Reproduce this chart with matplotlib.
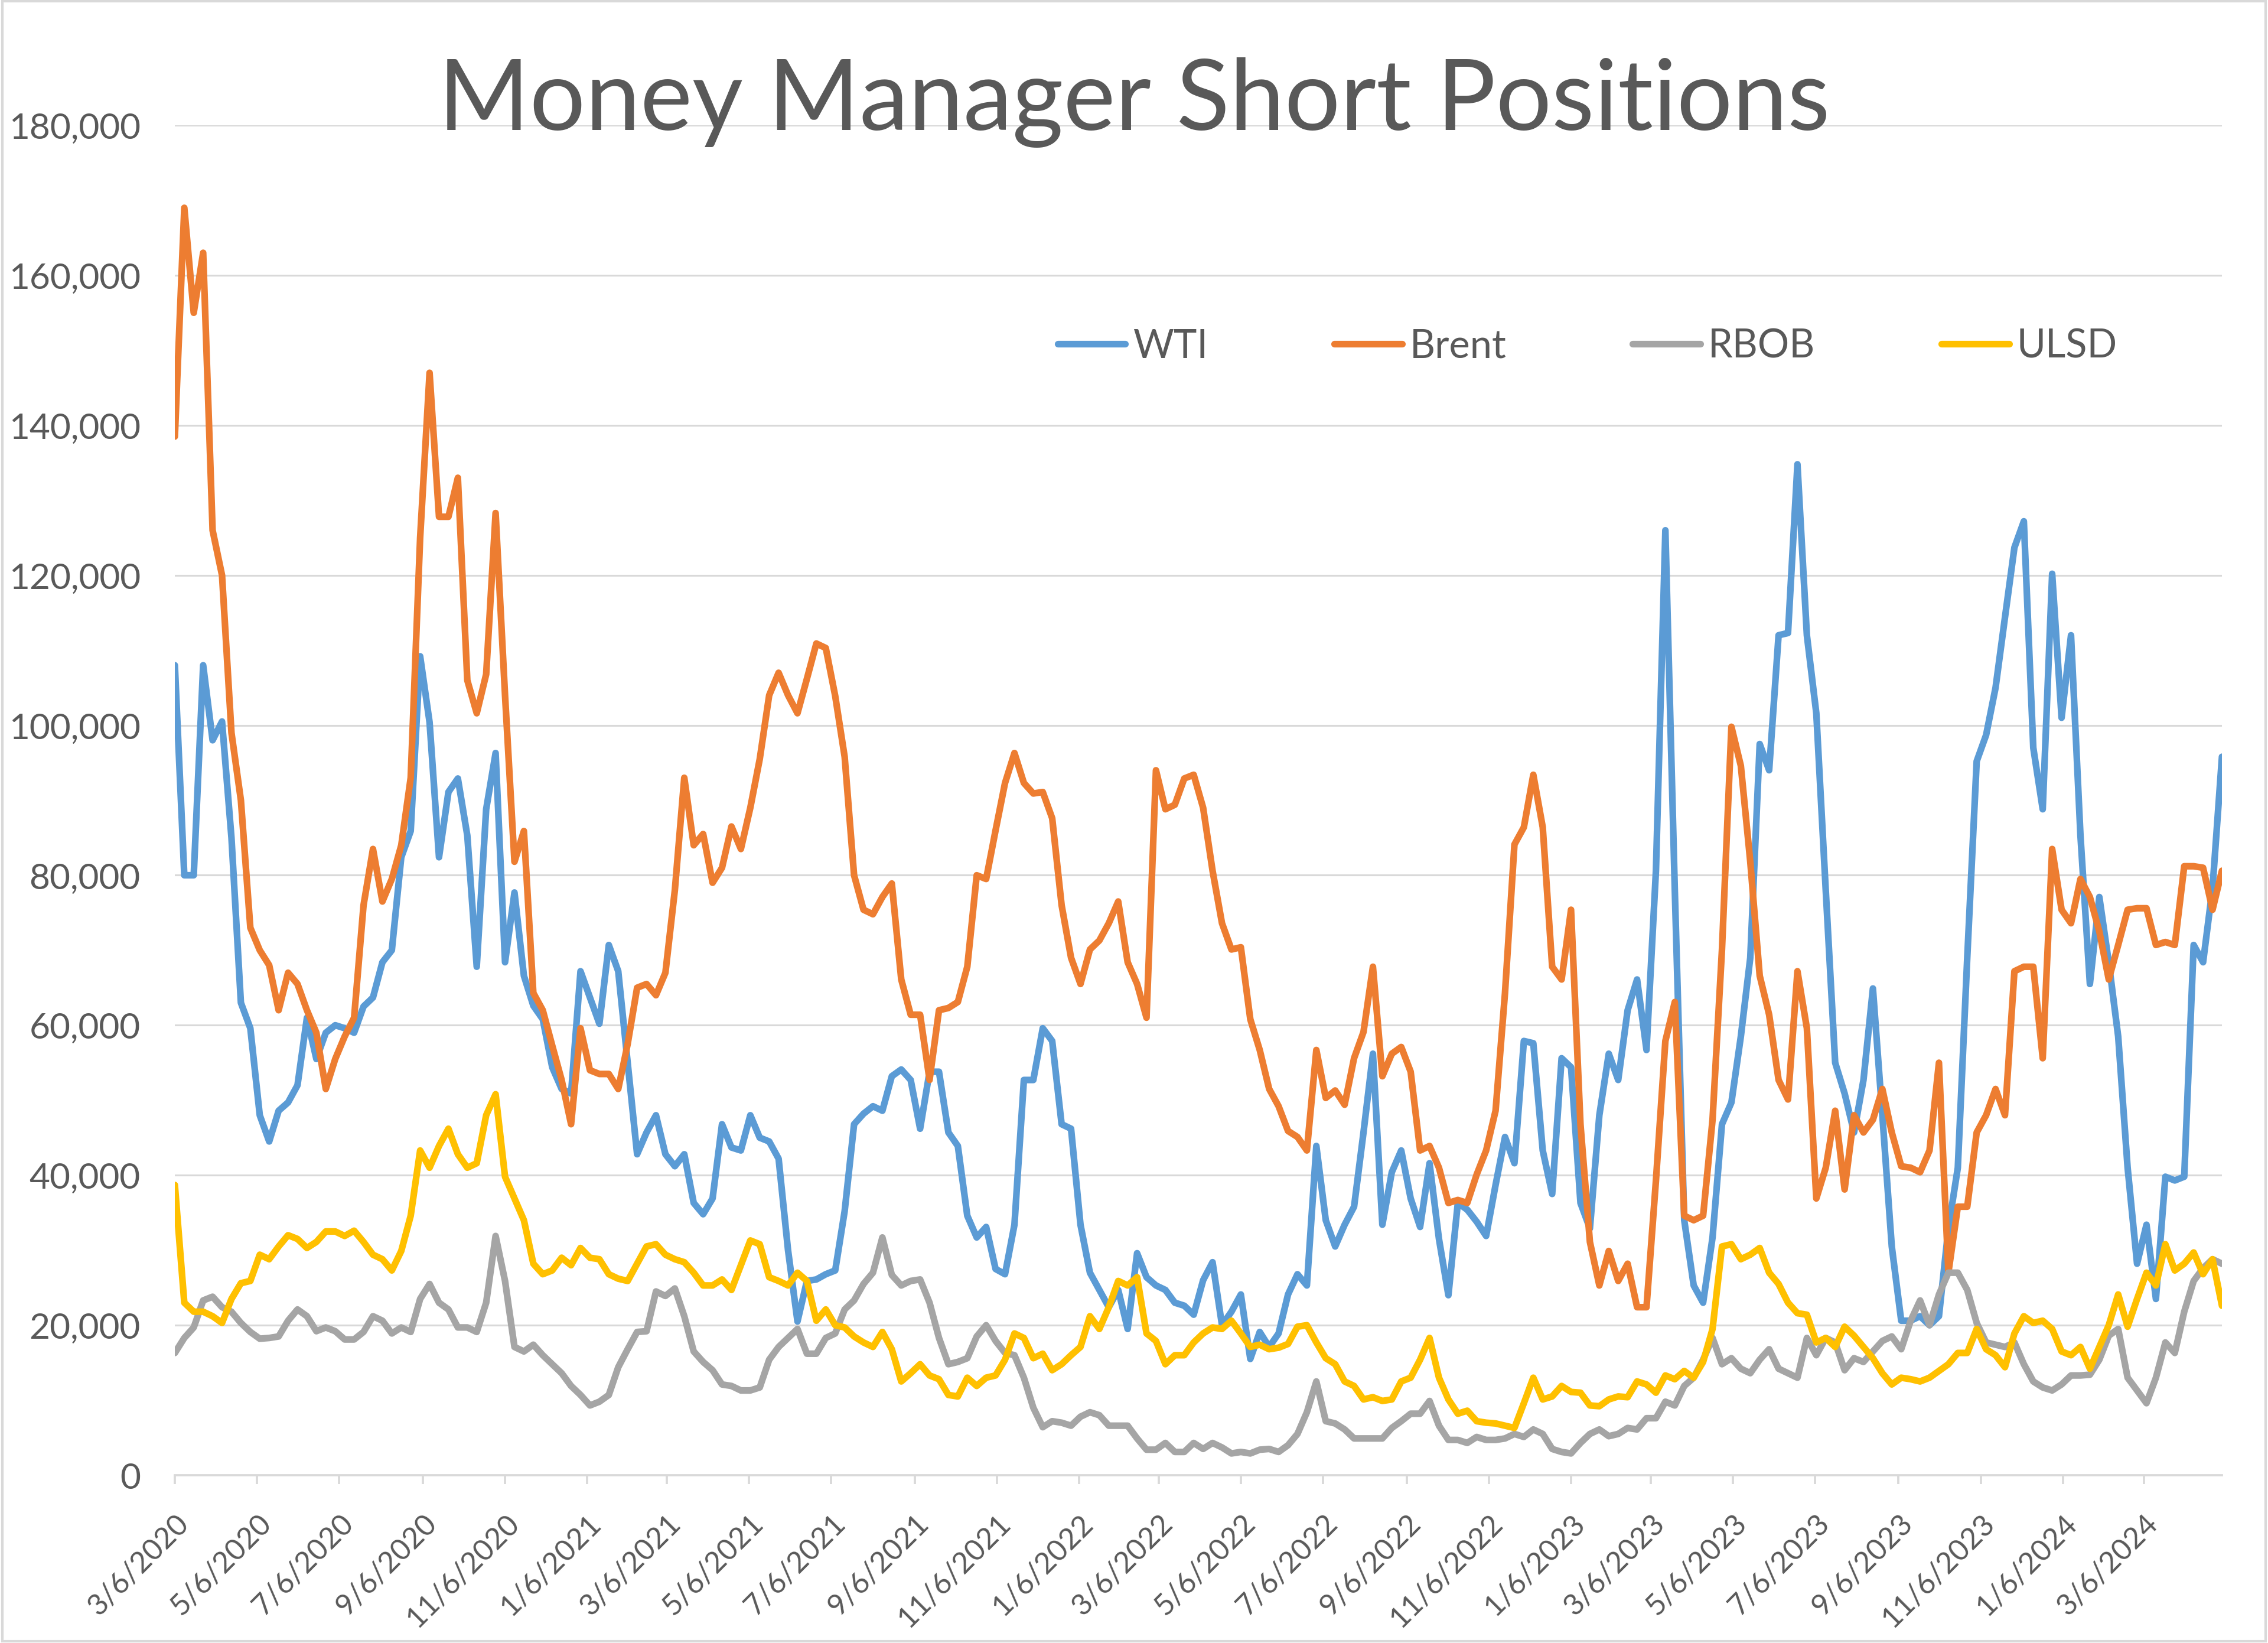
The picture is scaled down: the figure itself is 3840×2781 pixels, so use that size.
import numpy as np
import pandas as pd
import matplotlib
matplotlib.use("Agg")
from matplotlib import pyplot as plt
from matplotlib.patches import Rectangle

# weekly COT dates (Fridays), 3/6/2020 .. 5/3/2024
dates = pd.date_range("2020-03-06", periods=218, freq="7D")

# money manager short positions, thousands of contracts
wti = [
    108, 80, 80, 108, 98, 100.5, 85, 63, 59.6, 48, 44.5, 48.6, 49.7, 52, 61, 55.5, 59, 60, 59.6, 59, 62.5, 63.7,
    68.4, 70, 82.4, 85.9, 109.2, 100.4, 82.4, 91.1, 92.9, 85.3, 67.8, 88.8, 96.3, 68.4, 77.7, 66.6, 62.6, 60.8, 54.4, 51.5, 50.9, 67.2,
    63.7, 60.2, 70.7, 67.2, 55, 42.8, 45.7, 48, 42.8, 41.2, 42.8, 36.3, 34.8, 36.9, 46.8, 43.7, 43.3, 48, 45, 44.5, 42.2, 30,
    20.5, 25.9, 26.1, 26.8, 27.3, 35.2, 46.8, 48.2, 49.2, 48.6, 53.2, 54.1, 52.7, 46.2, 53.8, 53.8, 45.7, 43.9, 34.6, 31.7, 33.1, 27.5,
    26.8, 33.4, 52.7, 52.7, 59.6, 57.9, 46.8, 46.2, 33.4, 27, 24.7, 22.4, 24.7, 19.5, 29.6, 26.4, 25.3, 24.7, 23, 22.6, 21.4, 26,
    28.4, 20, 21.8, 24.1, 15.5, 19.1, 17.1, 18.9, 24.1, 26.8, 25.3, 43.9, 34, 30.5, 33.4, 35.8, 45.7, 56.2, 33.4, 40.4, 43.3,
    36.9, 33.1, 41.6, 31.5, 24, 36.3, 35.4, 33.8, 31.9, 38.7, 45.1, 41.6, 57.9, 57.6, 43.3, 37.5, 55.6, 54.4, 36.3, 32.9, 48, 56.2,
    52.7, 62, 66.1, 56.7, 80.6, 126, 78, 34, 25.3, 23, 31.7, 46.8, 49.7, 58.5, 69, 97.5, 94, 112, 112.3, 134.8, 112, 101.6,
    78, 55, 50.9, 45.7, 52.7, 64.9, 48, 30.5, 20.6, 20.6, 21.2, 20, 21.2, 32.9, 41, 69, 95.2, 98.7, 105, 114.4, 123.7, 127.2,
    97, 88.8, 120.2, 101, 112, 85.3, 65.5, 77.1, 68.4, 58.5, 41, 28.2, 33.4, 23.5, 39.8, 39.3, 39.8, 70.7, 68.4, 78.3, 95.8,
]
brent = [
    138.5, 169, 155, 163, 126, 120, 99, 90, 73, 70, 68, 62, 67, 65.5, 62, 59, 51.5, 55.5, 58.5, 61, 76, 83.5,
    76.5, 79.5, 84, 93, 125, 147, 127.8, 127.8, 133, 106, 101.6, 106.8, 128.3, 104, 81.8, 85.9, 64.3, 62, 57.3, 52.7, 46.8, 59.6,
    54, 53.5, 53.5, 51.5, 57.5, 65, 65.5, 64, 67, 78, 93, 84, 85.5, 79, 81, 86.5, 83.5, 89, 95.5, 104, 107, 104,
    101.6, 106.2, 110.9, 110.3, 103.9, 95.8, 80, 75.4, 74.8, 77.1, 78.9, 66.1, 61.4, 61.4, 52.7, 62, 62.3, 63.1, 67.8, 80, 79.5, 86,
    92.3, 96.3, 92.3, 90.9, 91.1, 87.6, 76, 69, 65.5, 70.1, 71.3, 73.6, 76.5, 68.4, 65.5, 61, 94, 88.8, 89.4, 92.9, 93.4, 89,
    80.6, 73.6, 70.1, 70.4, 60.8, 56.7, 51.5, 49.2, 45.9, 45.1, 43.3, 56.7, 50.3, 51.3, 49.4, 55.6, 59.1, 67.8, 53.2, 56.2, 57.1,
    53.8, 43.3, 43.9, 41, 36.3, 36.7, 36.3, 40.1, 43.3, 48.6, 64.3, 84.1, 86.4, 93.4, 86.4, 67.8, 66.1, 75.4, 46.8, 31.1, 25.3, 29.9,
    25.9, 28.2, 22.4, 22.4, 39.3, 57.9, 63.1, 34.6, 34, 34.6, 47.4, 70.1, 99.8, 94.6, 81.8, 66.6, 61.4, 52.7, 50.1, 67.2, 59.6, 36.9,
    41, 48.6, 38.1, 48, 45.7, 47.4, 51.5, 45.7, 41.2, 41, 40.4, 43.3, 55, 27, 35.8, 35.8, 45.7, 48, 51.5, 48, 67.2, 67.8,
    67.8, 55.6, 83.5, 75.4, 73.6, 79.5, 77.1, 72.5, 66.1, 70.7, 75.4, 75.6, 75.6, 70.7, 71.1, 70.7, 81.2, 81.2, 81, 75.4, 80.6,
]
rbob = [
    16.3, 18.3, 19.7, 23.3, 23.8, 22.4, 21.8, 20.3, 19.1, 18.2, 18.3, 18.5, 20.6, 22.1, 21.2, 19.2, 19.7, 19.2, 18.1, 18.1, 19.1, 21.2,
    20.6, 18.9, 19.7, 19.1, 23.5, 25.5, 23, 22.1, 19.7, 19.7, 19.1, 23, 31.9, 25.9, 17.1, 16.5, 17.4, 16, 14.8, 13.6, 11.9, 10.7,
    9.3, 9.8, 10.7, 14.4, 16.8, 19.1, 19.2, 24.5, 23.9, 24.9, 21.2, 16.5, 15.1, 14, 12.1, 11.9, 11.3, 11.3, 11.7, 15.4, 17.1, 18.3,
    19.5, 16.2, 16.2, 18.3, 18.9, 22.1, 23.3, 25.5, 27, 31.7, 26.7, 25.3, 25.9, 26.1, 23, 18.3, 14.8, 15.1, 15.6, 18.5, 20, 17.9,
    16.3, 16, 13, 9, 6.4, 7.2, 7, 6.6, 7.8, 8.4, 8, 6.6, 6.6, 6.6, 4.9, 3.4, 3.4, 4.3, 3.1, 3.1, 4.3, 3.5,
    4.3, 3.7, 2.9, 3.1, 2.9, 3.4, 3.5, 3.1, 4, 5.5, 8.4, 12.5, 7.2, 6.9, 6.1, 4.9, 4.9, 4.9, 4.9, 6.3, 7.2,
    8.2, 8.2, 9.9, 6.6, 4.7, 4.7, 4.3, 5.1, 4.7, 4.7, 4.9, 5.5, 5.1, 6.1, 5.5, 3.5, 3.1, 2.9, 4.3, 5.5, 6.1, 5.2,
    5.5, 6.3, 6.1, 7.6, 7.6, 9.8, 9.3, 11.9, 13, 15.4, 18.3, 14.8, 15.6, 14.2, 13.6, 15.4, 16.8, 14.2, 13.6, 13, 18.3, 16,
    18.3, 17.7, 14, 15.6, 15.1, 16.5, 17.9, 18.5, 16.8, 20.6, 23.3, 20, 24.1, 27, 27, 24.7, 20.3, 17.7, 17.4, 17.1, 17.7, 14.8,
    12.5, 11.7, 11.3, 12.1, 13.3, 13.3, 13.4, 15.4, 18.6, 19.5, 13, 11.3, 9.6, 13, 17.7, 16.3, 21.8, 25.9, 27.6, 28.8, 28.2,
]
ulsd = [
    38.7, 23, 21.8, 21.8, 21.2, 20.3, 23.5, 25.6, 25.9, 29.4, 28.8, 30.5, 32, 31.5, 30.3, 31.1, 32.5, 32.5, 31.9, 32.6, 31.1, 29.4,
    28.8, 27.3, 29.9, 34.6, 43.3, 41, 43.9, 46.2, 42.8, 41, 41.6, 48, 50.8, 39.8, 36.9, 34, 28.2, 26.8, 27.3, 29, 28, 30.3,
    29, 28.8, 26.8, 26.2, 25.9, 28.2, 30.5, 30.8, 29.4, 28.8, 28.4, 27, 25.3, 25.3, 26.1, 24.7, 28, 31.3, 30.8, 26.4, 25.9, 25.3,
    27, 25.9, 20.6, 22.1, 20, 19.7, 18.5, 17.7, 17.1, 19.1, 16.8, 12.5, 13.6, 14.8, 13.3, 12.8, 10.7, 10.5, 13, 11.9, 13, 13.3,
    15.4, 18.9, 18.3, 15.6, 16.2, 14, 14.8, 16, 17.1, 21.2, 19.5, 22.4, 25.9, 25.3, 26.4, 18.9, 17.9, 14.8, 16, 16, 17.7, 18.9,
    19.7, 19.5, 20.6, 18.9, 17.1, 17.4, 16.8, 17, 17.5, 19.8, 20, 17.7, 15.6, 14.8, 12.5, 11.9, 10.1, 10.4, 9.9, 10.1, 12.5,
    13, 15.4, 18.3, 13, 10.1, 8.2, 8.6, 7.2, 7, 6.9, 6.6, 6.3, 9.6, 13, 10.1, 10.5, 11.9, 11.1, 11, 9.3, 9.2, 10.1,
    10.5, 10.4, 12.5, 12.1, 11, 13.3, 12.8, 13.9, 13, 15.1, 19.5, 30.5, 30.8, 28.8, 29.4, 30.3, 27, 25.5, 23, 21.6, 21.4, 17.7,
    18.3, 17.1, 19.8, 18.6, 17.1, 15.6, 13.6, 12.1, 13, 12.8, 12.5, 13, 13.9, 14.8, 16.3, 16.3, 19.5, 16.8, 16, 14.4, 18.9, 21.2,
    20.3, 20.6, 19.5, 16.5, 16, 17.1, 14.2, 17.1, 20, 24.1, 19.8, 23.5, 27, 25.3, 30.8, 27.3, 28.2, 29.7, 26.8, 28.8, 22.6,
]

series = [("WTI", wti, "#5B9BD5"), ("Brent", brent, "#ED7D31"),
          ("RBOB", rbob, "#A5A5A5"), ("ULSD", ulsd, "#FFC000")]

# date axis ticks every 2 months on the 6th
tick_dates = pd.date_range("2020-03-01", "2024-03-01", freq="2MS") + pd.Timedelta(days=5)
tick_labels = [f"{d.month}/{d.day}/{d.year}" for d in tick_dates]

plt.rcParams["font.family"] = ["Lato", "DejaVu Sans"]
text_color = "#595959"
grid_color = "#D9D9D9"

fig = plt.figure(figsize=(12.8, 9.2733), dpi=300)
ax = fig.add_axes([0.0771, 0.1021, 0.9026, 0.8213])

for name, vals, color in series:
    ax.plot(dates, np.array(vals) * 1000, color=color, linewidth=2.7, label=name,
            solid_joinstyle="round", solid_capstyle="round")

ax.set_xlim(dates[0], dates[-1])
ax.set_ylim(0, 180000)
ax.set_yticks(np.arange(0, 180001, 20000))
ax.yaxis.set_major_formatter(matplotlib.ticker.FuncFormatter(lambda v, p: f"{int(v):,}"))
ax.set_xticks(tick_dates)
ax.set_xticklabels(tick_labels, rotation=45, ha="right", rotation_mode="anchor")

ax.grid(axis="y", color=grid_color, linewidth=0.75)
ax.set_axisbelow(True)
for side in ["top", "right", "left"]:
    ax.spines[side].set_visible(False)
ax.spines["bottom"].set_color(grid_color)
ax.spines["bottom"].set_linewidth(0.9)
ax.tick_params(axis="y", length=0, pad=14, labelsize=14.5, labelcolor=text_color)
ax.tick_params(axis="x", length=3.6, width=0.9, color=grid_color, pad=10,
               labelsize=12, labelcolor=text_color)

fig.text(0.5, 0.921, "Money Manager Short Positions", ha="center", va="baseline",
         fontsize=40, color=text_color)

fig.legend(loc="center", bbox_to_anchor=(0.700, 0.789), ncol=4, frameon=False,
           fontsize=16, labelcolor=text_color, handlelength=1.72,
           handletextpad=0.2, columnspacing=3.2)

fig.patches.append(Rectangle((0.001, 0.001), 0.998, 0.998, transform=fig.transFigure,
                             fill=False, edgecolor=grid_color, linewidth=1.0))

fig.savefig("out.png", dpi=300)
